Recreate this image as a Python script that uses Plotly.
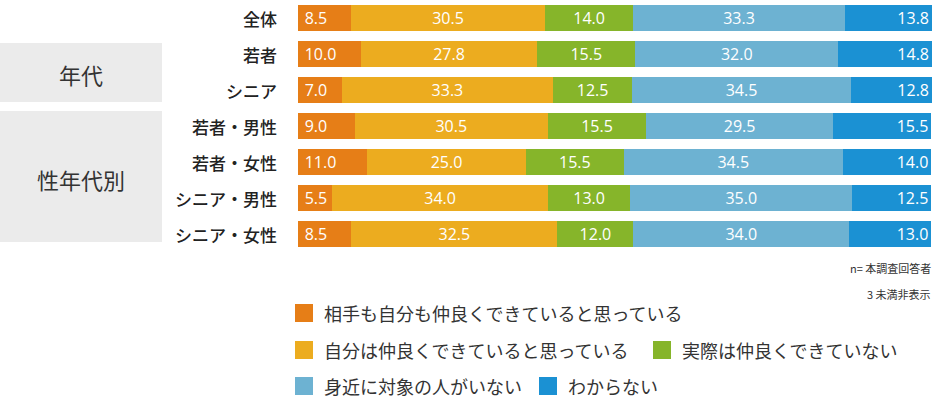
import plotly.graph_objects as go

W, H = 934, 412

categories = ["全体", "若者", "シニア", "若者・男性", "若者・女性", "シニア・男性", "シニア・女性"]
series_names = [
    "相手も自分も仲良くできていると思っている",
    "自分は仲良くできていると思っている",
    "実際は仲良くできていない",
    "身近に対象の人がいない",
    "わからない",
]
both_good = [8.5, 10.0, 7.0, 9.0, 11.0, 5.5, 8.5]
self_good = [30.5, 27.8, 33.3, 30.5, 25.0, 34.0, 32.5]
not_good = [14.0, 15.5, 12.5, 15.5, 15.5, 13.0, 12.0]
no_person = [33.3, 32.0, 34.5, 29.5, 34.5, 35.0, 34.0]
dont_know = [13.8, 14.8, 12.8, 15.5, 14.0, 12.5, 13.0]
series_values = [both_good, self_good, not_good, no_person, dont_know]

groups = [("年代", 43, 102), ("性年代別", 111, 242)]
notes = ["n= 本調査回答者", "3 未満非表示"]

colors = ["#E67E17", "#ECAC1F", "#86B52A", "#6DB2D2", "#1B91D3"]
anchors = ["start", "middle", "middle", "middle", "end"]
templates = [" %{x:.1f}", "%{x:.1f}", "%{x:.1f}", "%{x:.1f}", "%{x:.1f}"]

FONT = "Noto Sans CJK JP, Noto Sans, sans-serif"
NUMFONT = "Open Sans, Noto Sans, sans-serif"


def px_x(x):
    return x / W


def px_y(y):
    return 1 - y / H


fig = go.Figure()
for name, vals, col, anc, tpl in zip(series_names, series_values, colors, anchors, templates):
    fig.add_trace(go.Bar(
        y=categories, x=vals, name=name, orientation="h",
        marker=dict(color=col, line=dict(width=0)),
        texttemplate=tpl, textposition="inside", insidetextanchor=anc,
        textfont=dict(color="white", size=16, family=NUMFONT),
        hoverinfo="skip", showlegend=False,
    ))

shapes = []
annotations = []

# group boxes
for label, y0, y1 in groups:
    shapes.append(dict(type="rect", xref="paper", yref="paper",
                       x0=0, x1=px_x(162), y0=px_y(y1), y1=px_y(y0),
                       fillcolor="#EBEBEB", line=dict(width=0), layer="below"))
    annotations.append(dict(text=label, xref="paper", yref="paper",
                            x=px_x(81), y=px_y((y0 + y1) / 2 + 2),
                            xanchor="center", yanchor="middle", showarrow=False,
                            font=dict(size=22, color="#333333", family=FONT)))

# row labels
for c in categories:
    annotations.append(dict(text=c, xref="paper", yref="y", x=px_x(279), y=c,
                            xanchor="right", yanchor="middle", showarrow=False,
                            font=dict(size=17, color="#222222", family=FONT, weight=500)))

# notes
for i, t in enumerate(notes):
    annotations.append(dict(text=t, xref="paper", yref="paper", x=px_x(933),
                            y=px_y(268 + 26 * i), xanchor="right", yanchor="middle",
                            showarrow=False, font=dict(size=11, color="#333333", family=FONT)))

# manual legend
legend_pos = [(295, 313), (295, 350), (653, 350), (295, 386), (539, 386)]
for name, col, (lx, ly) in zip(series_names, colors, legend_pos):
    shapes.append(dict(type="rect", xref="paper", yref="paper",
                       x0=px_x(lx), x1=px_x(lx + 18), y0=px_y(ly + 9), y1=px_y(ly - 9),
                       fillcolor=col, line=dict(width=0)))
    annotations.append(dict(text=name, xref="paper", yref="paper",
                            x=px_x(lx + 27), y=px_y(ly), xanchor="left", yanchor="middle",
                            showarrow=False, font=dict(size=18, color="#333333", family=FONT)))

fig.update_layout(
    width=W, height=H, margin=dict(l=0, r=0, t=0, b=0),
    barmode="stack", bargap=1 - 26 / 36,
    plot_bgcolor="white", paper_bgcolor="white",
    font=dict(family=FONT),
    uniformtext=dict(minsize=16, mode="show"),
    xaxis=dict(domain=[px_x(297.5), px_x(932)], range=[0, 100.1], visible=False, fixedrange=True),
    yaxis=dict(domain=[1 - 252 / H, 1], range=[6.5, -0.5], categoryorder="array",
               categoryarray=categories, visible=False, fixedrange=True),
    shapes=shapes, annotations=annotations, showlegend=False,
)

fig.write_html("out.html", config={"displayModeBar": False},
               post_script="document.body.style.margin='0';document.body.style.overflow='hidden';")
